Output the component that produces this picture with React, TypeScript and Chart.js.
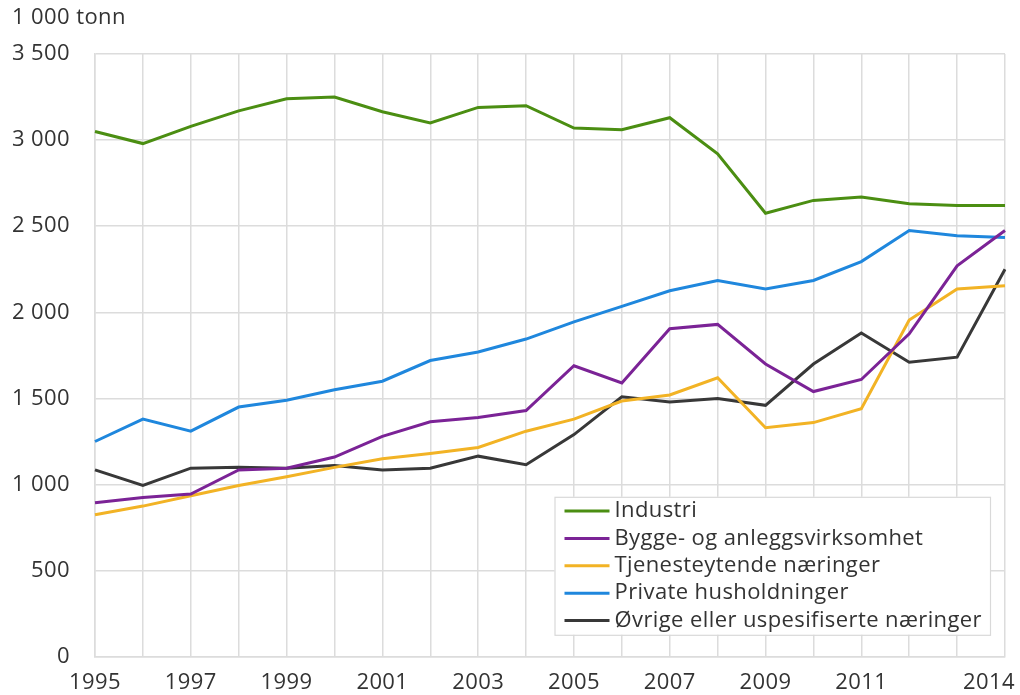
import React, { useEffect, useRef } from "react";
import { Chart, registerables } from "chart.js";

Chart.register(...registerables);

const years = ["1995","1996","1997","1998","1999","2000","2001","2002","2003","2004","2005","2006","2007","2008","2009","2010","2011","2012","2013","2014"];
const xLabelYears = ["1995","1997","1999","2001","2003","2005","2007","2009","2011","2014"];

const industri = [3050,2980,3080,3170,3240,3250,3165,3100,3190,3200,3070,3060,3130,2920,2575,2650,2670,2630,2620,2620];
const bygge = [895,925,945,1085,1095,1160,1280,1365,1390,1430,1690,1590,1905,1930,1700,1540,1610,1875,2270,2475];
const tjeneste = [825,875,935,995,1045,1100,1150,1180,1215,1310,1380,1485,1520,1620,1330,1360,1440,1955,2135,2155];
const private_ = [1250,1380,1310,1450,1490,1550,1600,1720,1770,1845,1945,2035,2125,2185,2135,2185,2295,2475,2445,2435];
const ovrige = [1085,995,1095,1100,1095,1110,1085,1095,1165,1115,1290,1510,1480,1500,1460,1700,1880,1710,1740,2250];

const seriesNames = ["Industri","Bygge- og anleggsvirksomhet","Tjenesteytende næringer","Private husholdninger","Øvrige eller uspesifiserte næringer"];
const seriesColors = ["#4b8e12","#7b2396","#f2b325","#1f87dd","#383838"];
const yTitle = "1 000 tonn";

const FONT = "'Open Sans', sans-serif";
const FS = 22;
const LS = "0.4px";
const TXT = "#333333";
const GRID = "#dcdcdc";

const fmt = (v: number) => String(v).replace(/\B(?=(\d{3})+(?!\d))/g, " ");

const extras = {
  id: "extras",
  beforeDraw(chart: any) {
    try { chart.ctx.letterSpacing = LS; } catch (e) {}
  },
  afterDraw(chart: any) {
    const ctx = chart.ctx;
    const area = chart.chartArea;
    const xs = chart.scales.x;
    ctx.save();
    try { ctx.letterSpacing = LS; } catch (e) {}
    ctx.fillStyle = TXT;
    ctx.font = `${FS}px ${FONT}`;
    // title
    ctx.textAlign = "left";
    ctx.textBaseline = "middle";
    ctx.fillText(yTitle, 12, 18);
    // x labels
    const labels: string[] = chart.data.labels;
    labels.forEach((lab, i) => {
      if (!xLabelYears.includes(lab)) return;
      const x = xs.getPixelForValue(i);
      if (i === labels.length - 1) {
        ctx.textAlign = "right";
        ctx.fillText(lab, x + 10, area.bottom + 26);
      } else {
        ctx.textAlign = "center";
        ctx.fillText(lab, x, area.bottom + 26);
      }
    });
    // legend
    const ds = chart.data.datasets;
    let maxW = 0;
    ds.forEach((d: any) => { maxW = Math.max(maxW, ctx.measureText(d.label).width); });
    const rowH = 27.4;
    const w = 10 + 45 + 5 + maxW + 8;
    const h = rowH * ds.length + 1;
    const bx = area.right - 15 - w;
    const by = area.bottom - 22 - h;
    ctx.fillStyle = "#ffffff";
    ctx.fillRect(bx, by, w, h);
    ctx.strokeStyle = "#d9d9d9";
    ctx.lineWidth = 1.2;
    ctx.strokeRect(bx + 0.5, by + 0.5, w, h);
    ds.forEach((d: any, i: number) => {
      const cy = by + rowH * (i + 0.5) + 0.5;
      ctx.strokeStyle = d.borderColor;
      ctx.lineWidth = 3;
      ctx.beginPath();
      ctx.moveTo(bx + 10, cy);
      ctx.lineTo(bx + 55, cy);
      ctx.stroke();
      ctx.fillStyle = TXT;
      ctx.textAlign = "left";
      ctx.textBaseline = "middle";
      ctx.fillText(d.label, bx + 60, cy);
    });
    ctx.restore();
  },
};

export default function App() {
  const ref = useRef<HTMLCanvasElement | null>(null);
  useEffect(() => {
    if (!ref.current) return;
    const data = [industri, bygge, tjeneste, private_, ovrige];
    const chart = new Chart(ref.current, {
      type: "line",
      data: {
        labels: years,
        datasets: data.map((d, i) => ({
          label: seriesNames[i],
          data: d,
          borderColor: seriesColors[i],
          backgroundColor: seriesColors[i],
          borderWidth: 3,
          pointRadius: 0,
          tension: 0,
          fill: false,
        })),
      },
      options: {
        animation: false,
        responsive: false,
        maintainAspectRatio: false,
        layout: { padding: { top: 54, right: 15, bottom: 38, left: 0 }, autoPadding: false },
        plugins: { legend: { display: false }, tooltip: { enabled: false } },
        scales: {
          x: {
            type: "category",
            offset: false,
            grid: { color: GRID, lineWidth: 1.5, drawTicks: false },
            border: { color: GRID, width: 1.5 },
            ticks: { display: false, autoSkip: false },
          },
          y: {
            min: 0,
            max: 3500,
            afterFit: (s: any) => { s.width = 95; },
            grid: { color: GRID, lineWidth: 1.5, drawTicks: false },
            border: { color: GRID, width: 1.5 },
            ticks: {
              stepSize: 500,
              padding: 25,
              color: TXT,
              font: { family: FONT, size: FS },
              callback: (v: any) => fmt(Number(v)),
            },
          },
        },
      },
      plugins: [extras],
    });
    return () => chart.destroy();
  }, []);
  return (
    <div style={{ position: "absolute", left: 0, top: 0, width: 1020, height: 695, background: "#fff" }}>
      <canvas ref={ref} width={1020} height={695} style={{ width: 1020, height: 695, display: "block" }} />
    </div>
  );
}
